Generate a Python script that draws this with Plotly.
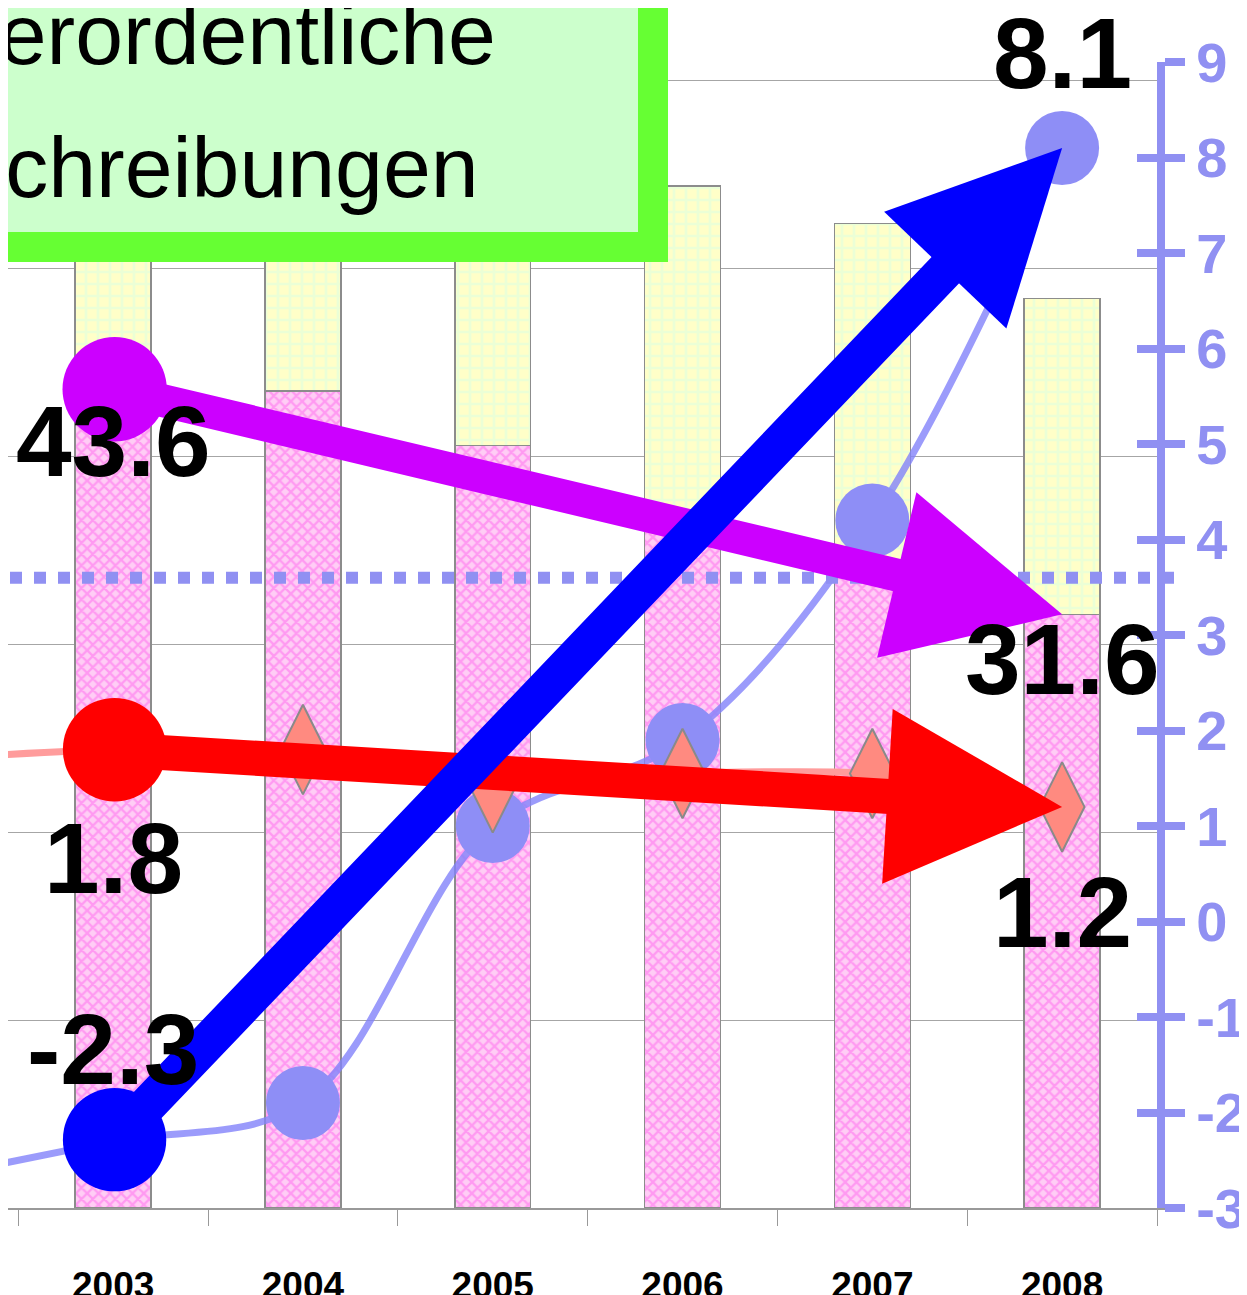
import plotly.graph_objects as go

# --- data ---------------------------------------------------------------
YEARS = ['2002', '2003', '2004', '2005', '2006', '2007', '2008']
# bars (left, hidden axis) – 2002 lies outside the visible window
PINK_SHARE = [None, 43.6, 43.5, 40.6, 36.4, 33.7, 31.6]
YELLOW_REST = [None, 14.4, 14.5, 17.4, 18.0, 18.7, 16.8]
# lines (right axis)
BLUE_LINE = [-2.7, -2.3, -1.9, 1.0, 1.9, 4.2, 8.1]
SALMON_LINE = [1.7, 1.8, 1.8, 1.4, 1.55, 1.55, 1.2]
AVG_LINE = 3.6
RIGHT_TICKS = list(range(-3, 10))
BOX_LINES = ['Außerordentliche', 'Abschreibungen']

FIRST, LAST = YEARS.index('2003'), YEARS.index('2008')

LIGHT_BLUE = '#9090f2'
SANS = 'Liberation Sans, Arial, sans-serif'

# page body has an 8px margin: plot area spans figure x 0..1149, y 54..1200
PW, PH, PT = 1149, 1146, 54

fig = go.Figure()

fig.add_trace(go.Bar(
    x=YEARS, y=PINK_SHARE, width=0.4, yaxis='y',
    marker=dict(color='#ffc0f2', line=dict(color='#8c8c8c', width=1.5),
                pattern=dict(shape='x', fgcolor='#ff66ee', bgcolor='#ffcdf5',
                             size=8, solidity=0.5)),
    showlegend=False, hoverinfo='skip'))
fig.add_trace(go.Bar(
    x=YEARS, y=YELLOW_REST, width=0.4, yaxis='y',
    marker=dict(color='#ffffd0', line=dict(color='#8c8c8c', width=1.5),
                pattern=dict(shape='+', fgcolor='#d8ffe4', bgcolor='#ffffc8',
                             size=12, solidity=0.4)),
    showlegend=False, hoverinfo='skip'))

fig.add_trace(go.Scatter(
    x=YEARS, y=BLUE_LINE, yaxis='y2', mode='lines+markers',
    line=dict(color='rgba(130,130,250,0.8)', width=7, shape='spline', smoothing=1),
    marker=dict(symbol='circle', size=74, color='#8e8ef6'),
    showlegend=False, hoverinfo='skip'))
fig.add_trace(go.Scatter(
    x=YEARS, y=SALMON_LINE, yaxis='y3', mode='lines+markers',
    line=dict(color='#ff9c9c', width=7, shape='spline', smoothing=0.6),
    marker=dict(symbol='diamond-tall', size=64, color='#ff8a80',
                line=dict(color='#8a8a8a', width=2)),
    showlegend=False, hoverinfo='skip'))

# dotted average line
fig.add_shape(type='line', xref='paper', yref='y2', x0=2 / PW, x1=1177 / PW,
              y0=AVG_LINE, y1=AVG_LINE,
              line=dict(color=LIGHT_BLUE, width=12, dash='dot'), layer='above')

# green text box (cropped at the top-left)
fig.add_shape(type='rect', xref='paper', yref='paper',
              x0=-0.2, x1=645 / PW, y0=1 - (239 - PT) / PH, y1=1.3,
              fillcolor='#ccffcc', line=dict(color='#66ff33', width=30),
              layer='above')
for txt, yp in zip(BOX_LINES, [1.0244, 0.9086]):
    fig.add_annotation(text=txt, xref='paper', yref='paper', x=160 / PW, y=yp,
                       xanchor='center', yanchor='middle', showarrow=False,
                       font=dict(family=SANS, size=86, color='black'))

# trend arrows
arrows = [
    ('#cc00ff', 'y', PINK_SHARE, 33, 1.03, 0.79),
    ('#ff0000', 'y2', SALMON_LINE, 35, 1.0, 0.74),
    ('#0000ff', 'y2', BLUE_LINE, 38, 0.89, 0.68),
]
for color, yref, series, w, hs, ss in arrows:
    fig.add_annotation(
        x=LAST, y=series[LAST], ax=FIRST, ay=series[FIRST],
        xref='x', yref=yref, axref='x', ayref=yref, text='',
        showarrow=True, arrowside='end+start', arrowhead=2, startarrowhead=6,
        arrowwidth=w, arrowsize=hs, startarrowsize=ss, arrowcolor=color,
        standoff=0, startstandoff=0)

# value labels
labels = [
    (FIRST, 'y', PINK_SHARE[FIRST], -52),
    (LAST, 'y', PINK_SHARE[LAST], -45),
    (FIRST, 'y2', SALMON_LINE[FIRST], -108),
    (LAST, 'y2', SALMON_LINE[LAST], -105),
    (FIRST, 'y2', BLUE_LINE[FIRST], 92),
    (LAST, 'y2', BLUE_LINE[LAST], 95),
]
for xi, yref, val, shift in labels:
    fig.add_annotation(x=xi, y=val, xref='x', yref=yref, text=f'{val:.1f}',
                       showarrow=False, yshift=shift, yanchor='middle',
                       font=dict(family=SANS, size=100, color='black', weight='bold'))

fig.update_layout(
    width=1239, height=1287, barmode='stack', bargap=0.6,
    margin=dict(l=0, r=1239 - PW, t=PT, b=1287 - PT - PH, autoexpand=False),
    paper_bgcolor='white', plot_bgcolor='white',
    xaxis=dict(type='category', categoryorder='array', categoryarray=YEARS,
               range=[0.446, 6.5], ticks='outside', tickson='boundaries',
               ticklen=16, tickcolor='#999999', tickwidth=1,
               showline=True, linecolor='#999999', linewidth=1.5,
               showgrid=False, ticklabelstandoff=44, automargin=False,
               tickfont=dict(family=SANS, size=37, color='black', weight='bold')),
    yaxis=dict(range=[0, 61], dtick=10, showticklabels=False, ticks='',
               showgrid=True, gridcolor='#a6a6a6', gridwidth=1, zeroline=False,
               automargin=False),
    yaxis2=dict(overlaying='y', side='right', range=[-3, 9], tickvals=RIGHT_TICKS,
                ticktext=[str(v) for v in RIGHT_TICKS],
                ticks='outside', ticklen=20, tickwidth=8, tickcolor=LIGHT_BLUE,
                showline=True, linecolor=LIGHT_BLUE, linewidth=8,
                showgrid=False, zeroline=False, ticklabelstandoff=0, automargin=False,
                tickfont=dict(family=SANS, size=56, color=LIGHT_BLUE, weight='bold')),
    yaxis3=dict(overlaying='y', side='right', range=[-3, 9], tickvals=RIGHT_TICKS,
                ticks='inside', ticklen=20, tickwidth=8, tickcolor=LIGHT_BLUE,
                showticklabels=False, showline=False, showgrid=False, zeroline=False,
                automargin=False),
)

fig.write_html('out.html')
